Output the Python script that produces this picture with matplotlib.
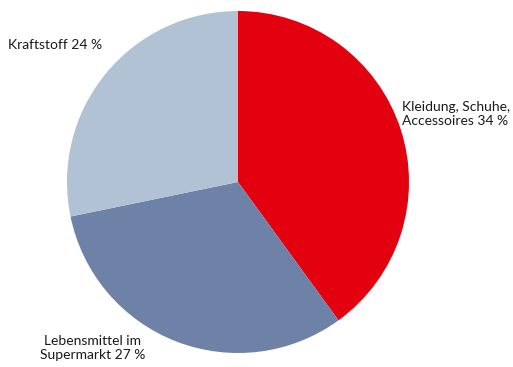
import matplotlib
matplotlib.use("Agg")
import matplotlib.pyplot as plt

categories = ["Kleidung, Schuhe,\nAccessoires 34 %", "Lebensmittel im\nSupermarkt 27 %", "Kraftstoff 24 %"]
values = [34, 27, 24]
colors = ["#E3000F", "#6E82A8", "#B1C2D5"]

W, H = 513, 367
fig = plt.figure(figsize=(W/100, H/100), dpi=100)
cx, cy, r = 238, 182, 171
ax = fig.add_axes([(cx - r)/W, (H - cy - r)/H, 2*r/W, 2*r/H])
ax.pie(values, colors=colors, startangle=90, counterclock=False, radius=1,
       wedgeprops=dict(linewidth=0))
ax.set_xlim(-1, 1); ax.set_ylim(-1, 1)
ax.set_aspect("equal")
ax.axis("off")

fp = dict(family=["Lato", "DejaVu Sans"], fontsize=10, color="#1a1a1a", linespacing=1.15)
def px(x, y):
    return x/W, 1 - y/H
fig.text(*px(8, 45), categories[2], ha="left", va="center", **fp)
fig.text(*px(402, 114), categories[0], ha="left", va="center", **fp)
fig.text(*px(93, 348), categories[1], ha="center", va="center", multialignment="center", **fp)

fig.savefig("out.png", dpi=100)
